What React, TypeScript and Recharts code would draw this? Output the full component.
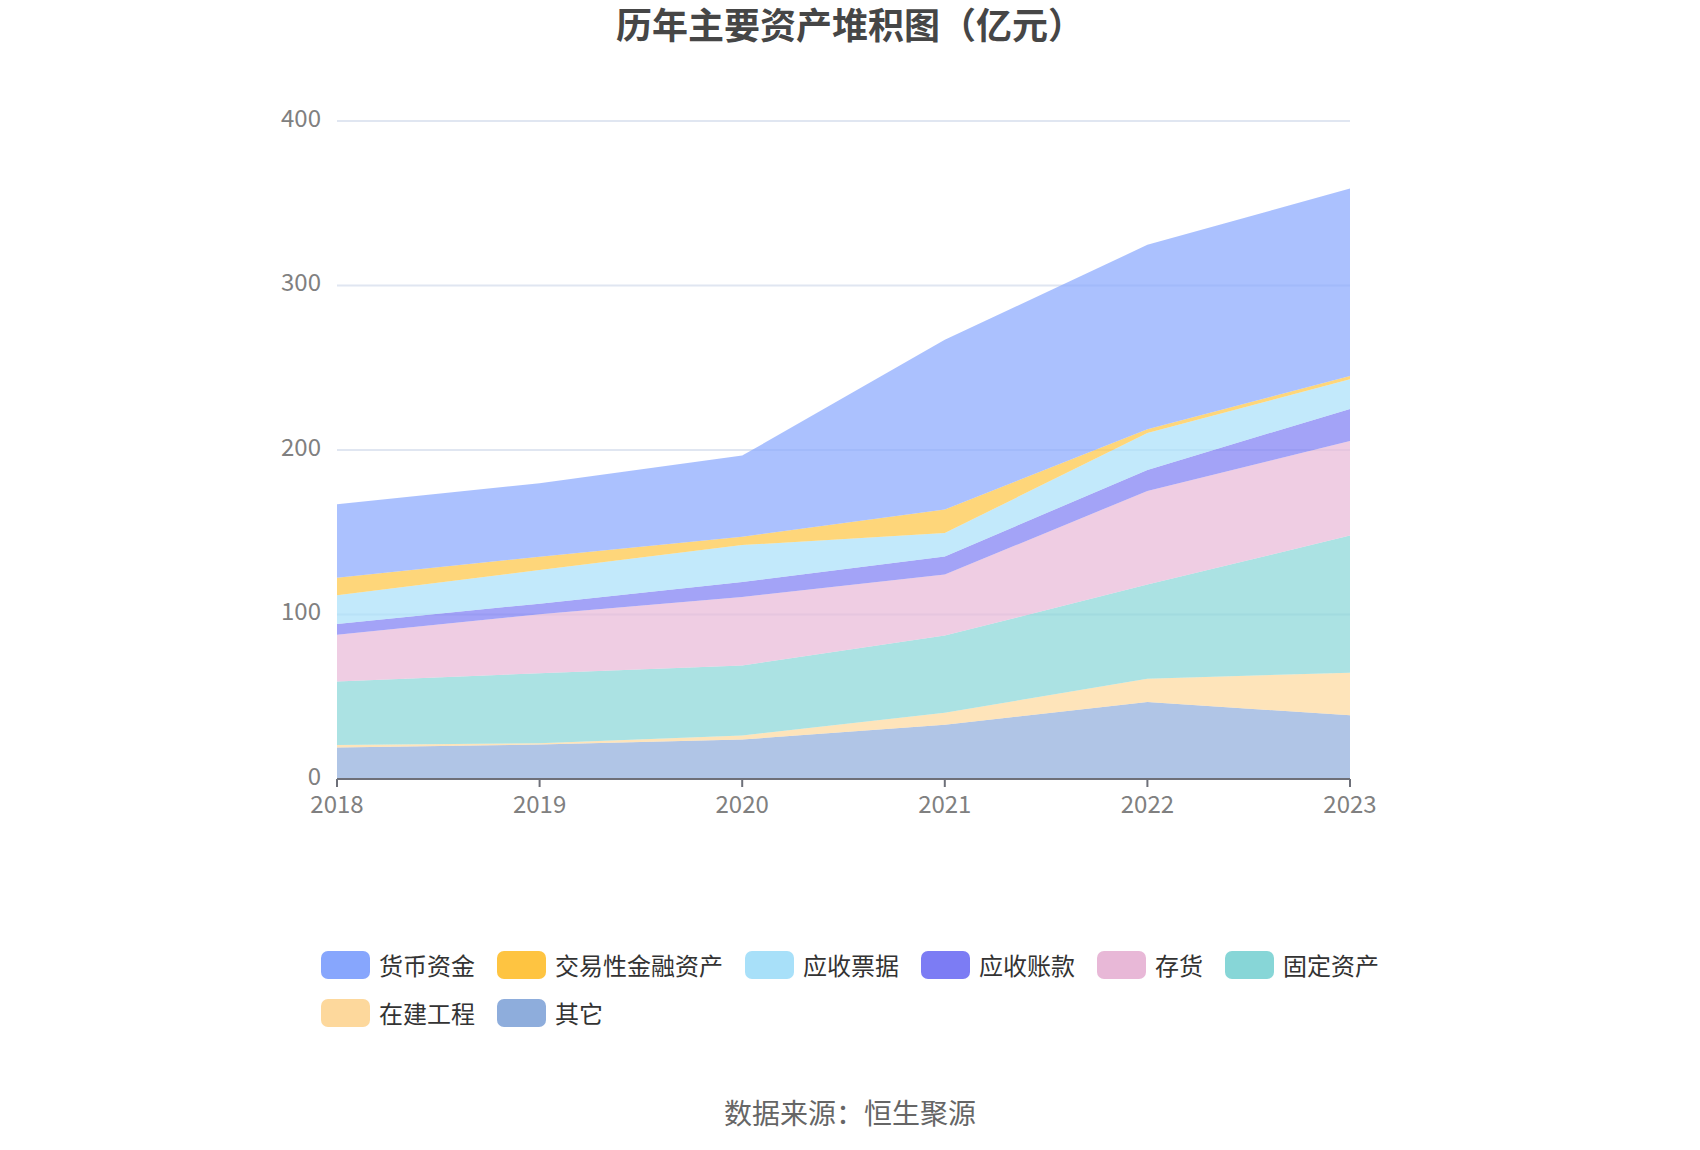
import React from 'react';
import { Area, AreaChart, CartesianGrid, XAxis, YAxis } from 'recharts';

const years = ['2018', '2019', '2020', '2021', '2022', '2023'];

// 单位：亿元
const other = [19.2, 20.9, 24.0, 33.0, 46.8, 38.7];
const construction = [1.4, 0.9, 2.5, 7.3, 14.2, 25.9];
const fixedAssets = [38.7, 42.5, 42.5, 46.9, 57.2, 83.4];
const inventory = [28.4, 35.8, 41.7, 37.1, 56.9, 57.5];
const receivables = [6.5, 6.5, 9.1, 11.0, 12.8, 19.5];
const notesReceivable = [17.5, 20.4, 22.4, 14.2, 22.5, 18.0];
const tradingAssets = [10.7, 8.1, 5.1, 14.3, 2.2, 2.0];
const cash = [44.6, 44.7, 49.3, 103.2, 112.1, 114.0];

const yTicks = [0, 100, 200, 300, 400];

// bottom of stack first
const series = [
  { key: 'other', name: '其它', color: '#8eaddc', values: other },
  { key: 'construction', name: '在建工程', color: '#fdd89c', values: construction },
  { key: 'fixedAssets', name: '固定资产', color: '#87d6d7', values: fixedAssets },
  { key: 'inventory', name: '存货', color: '#e8b8d7', values: inventory },
  { key: 'receivables', name: '应收账款', color: '#7c7cf4', values: receivables },
  { key: 'notesReceivable', name: '应收票据', color: '#a8e0f9', values: notesReceivable },
  { key: 'tradingAssets', name: '交易性金融资产', color: '#fec441', values: tradingAssets },
  { key: 'cash', name: '货币资金', color: '#87a6fd', values: cash },
];

const legendOrder = [
  'cash',
  'tradingAssets',
  'notesReceivable',
  'receivables',
  'inventory',
  'fixedAssets',
  'construction',
  'other',
];

const data = years.map((year, i) => {
  const row: Record<string, string | number> = { year };
  series.forEach((s) => {
    row[s.key] = s.values[i];
  });
  return row;
});

const axisGray = '#6e7079';
const labelGray = '#808080';

export default function App() {
  return (
    <div
      style={{
        position: 'absolute',
        left: 0,
        top: 0,
        width: 1700,
        height: 1150,
        background: '#fff',
        fontFamily: '"Noto Sans CJK SC", "Noto Sans", sans-serif',
      }}
    >
      <div
        style={{
          position: 'absolute',
          top: 5,
          left: 0,
          width: 1700,
          textAlign: 'center',
          fontSize: 36,
          lineHeight: '36px',
          fontWeight: 700,
          color: '#464646',
        }}
      >
        历年主要资产堆积图（亿元）
      </div>

      <AreaChart
        width={1700}
        height={1150}
        data={data}
        margin={{ top: 121, right: 350, bottom: 331, left: 277 }}
      >
        <CartesianGrid vertical={false} stroke="#e0e6f1" strokeWidth={2} />
        <XAxis
          dataKey="year"
          interval={0}
          height={40}
          axisLine={{ stroke: axisGray, strokeWidth: 2 }}
          tickLine={{ stroke: axisGray, strokeWidth: 2 }}
          tickSize={8}
          tickMargin={9}
          tick={{ fill: labelGray, fontSize: 24 }}
        />
        <YAxis
          type="number"
          domain={[0, 400]}
          ticks={yTicks}
          width={60}
          axisLine={false}
          tickLine={false}
          tickSize={0}
          tickMargin={16}
          tick={{ fill: labelGray, fontSize: 24, dy: -3 }}
        />
        {series.map((s) => (
          <Area
            key={s.key}
            type="linear"
            dataKey={s.key}
            name={s.name}
            stackId="assets"
            stroke="none"
            fill={s.color}
            fillOpacity={0.7}
            dot={false}
            activeDot={false}
            isAnimationActive={false}
          />
        ))}
      </AreaChart>

      <div
        style={{
          position: 'absolute',
          left: 321,
          top: 951,
          width: 1090,
          display: 'flex',
          flexWrap: 'wrap',
          columnGap: 22,
          rowGap: 20,
        }}
      >
        {legendOrder.map((key) => {
          const s = series.find((x) => x.key === key)!;
          return (
            <div key={key} style={{ display: 'flex', alignItems: 'center', height: 28 }}>
              <span
                style={{
                  display: 'inline-block',
                  width: 49,
                  height: 28,
                  borderRadius: 7,
                  background: s.color,
                  marginRight: 9,
                }}
              />
              <span style={{ fontSize: 24, lineHeight: '28px', color: '#333' }}>{s.name}</span>
            </div>
          );
        })}
      </div>

      <div
        style={{
          position: 'absolute',
          top: 1097,
          left: 0,
          width: 1700,
          textAlign: 'center',
          fontSize: 28,
          lineHeight: '30px',
          color: '#666',
        }}
      >
        数据来源：恒生聚源
      </div>
    </div>
  );
}
